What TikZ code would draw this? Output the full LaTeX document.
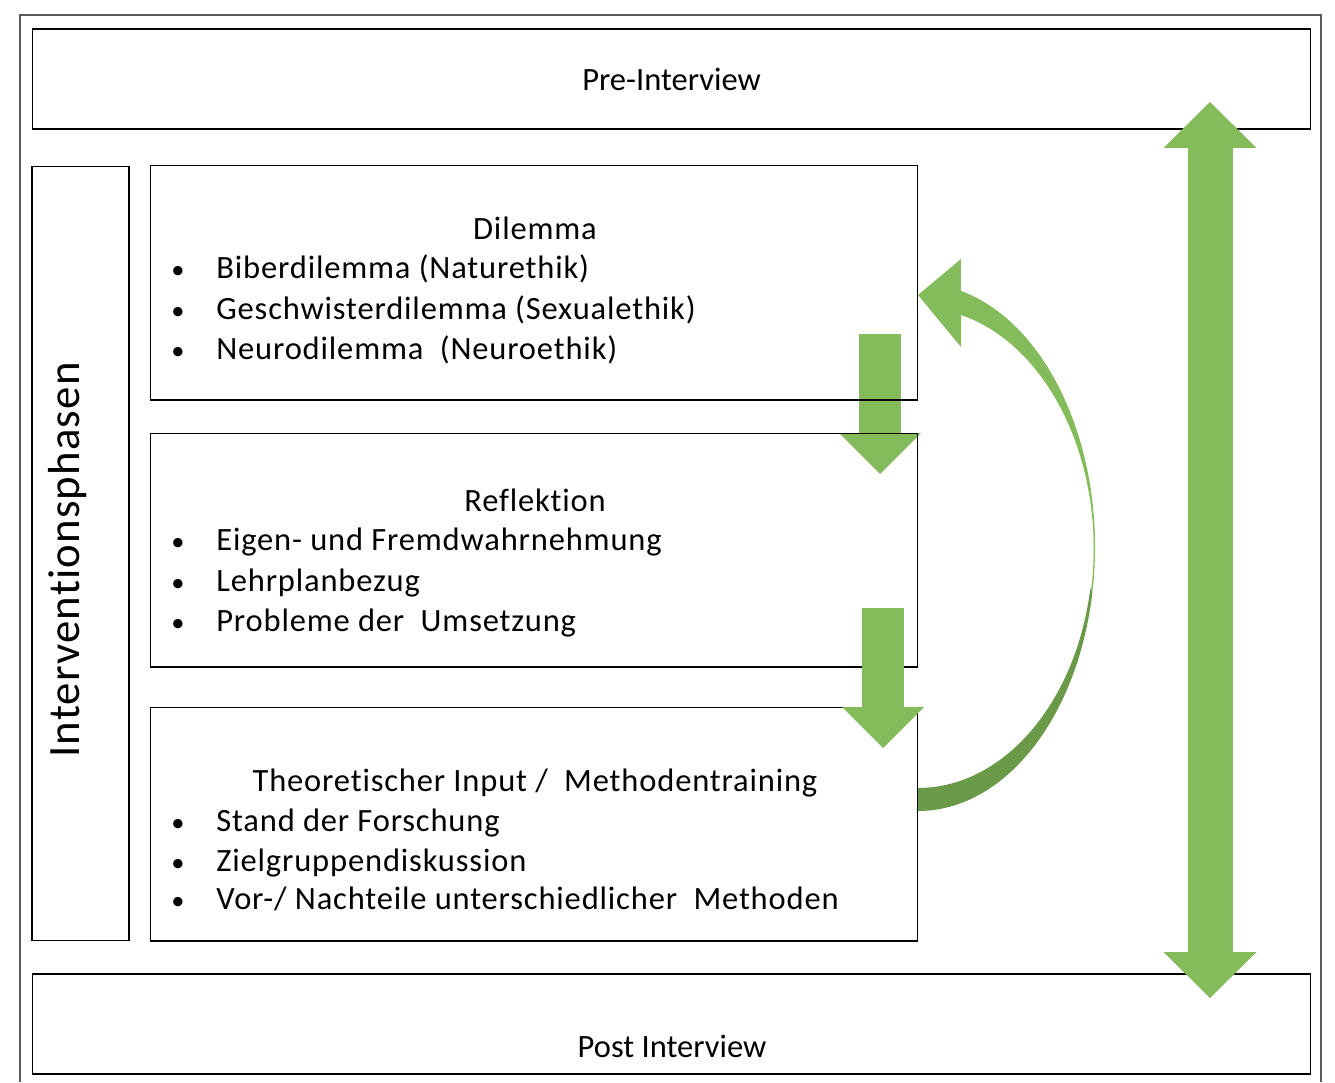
\documentclass[tikz,border=0pt]{standalone}
\usepackage{fontspec}
\setmainfont{Carlito}
\newfontfamily\gesperrt[LetterSpace=2.6, Ligatures=NoCommon]{Carlito}
\usetikzlibrary{arrows.meta,calc}
\definecolor{pfeilgruen}{RGB}{132,187,91}
\definecolor{pfeildunkel}{RGB}{106,154,72}
\definecolor{rahmengrau}{RGB}{90,90,90}
\tikzset{
  kasten/.style={draw=black, line width=0.6pt, inner sep=0pt},
  schrift/.style={inner sep=0pt, font=\fontsize{18.5}{22}\selectfont},
  titel/.style={inner sep=0pt, anchor=base, font=\gesperrt\fontsize{18.5}{22}\selectfont},
  punkt/.style={titel, anchor=base west},
  kugel/.style={inner sep=0pt, anchor=base, font=\fontsize{15}{17}\selectfont},
  fettpfeil/.style={draw=pfeilgruen, line width=0.84cm,
    -{Triangle[length=0.82cm,width=1.64cm,line width=0pt]}},
  doppelpfeil/.style={draw=pfeilgruen, line width=0.9cm,
    {Triangle[length=0.92cm,width=1.86cm,line width=0pt]}-{Triangle[length=0.92cm,width=1.86cm,line width=0pt]}}
}
\begin{document}
\begin{tikzpicture}[x=0.02cm, y=-0.02cm]
  \useasboundingbox (0,0) rectangle (1335,1082);
  % outer frame
  \draw[rahmengrau, line width=0.9pt] (20,1082) -- (20,15) -- (1321,15) -- (1321,1082);

  % curved arrow back to the dilemma
  \coordinate (bogen) at (918,547);
  \fill[pfeilgruen] (961,315) arc[start angle=-76, end angle=10, x radius=175, y radius=241]
    -- (1092.3,592.8) arc[start angle=10, end angle=-76, x radius=177, y radius=264]
    -- (961,259) -- (918,295) -- (961,347) -- cycle;
  \fill[pfeildunkel] (1090.3,588.8) arc[start angle=10, end angle=90, x radius=175, y radius=241]
    -- (918,811) arc[start angle=90, end angle=10, x radius=177, y radius=264] -- cycle;

  % first arrow down
  \coordinate (p1a) at (880,334);
  \coordinate (p1b) at (880,474);
  \draw[fettpfeil] (p1a) -- (p1b);

  % boxes
  \node[kasten, minimum width=25.58cm, minimum height=2cm, schrift] (pre) at (671.5,79) {Pre-Interview};
  \node[kasten, minimum width=1.94cm, minimum height=15.5cm] (phasen) at (80.5,553.5) {};
  \node[kasten, minimum width=15.36cm, minimum height=4.7cm] (dil) at (534,282.5) {};
  \node[kasten, minimum width=15.36cm, minimum height=4.68cm] (refl) at (534,550) {};
  \node[kasten, minimum width=15.36cm, minimum height=4.68cm] (theo) at (534,824) {};
  \node[kasten, minimum width=25.58cm, minimum height=2cm] (post) at (671.5,1024) {};

  \node[schrift, anchor=base] (posttext) at (672,1057) {Post Interview};
  \node[rotate=90, anchor=base, inner sep=0pt, font=\gesperrt\fontsize{25.5}{30}\selectfont] (phasentext) at (79,560) {Interventionsphasen};

  % texts of the phases
  \node[titel] (diltitel) at (535,239) {Dilemma};
  \node[titel] (refltitel) at (535,511) {Reflektion};
  \node[titel] (theotitel) at (535,791) {Theoretischer Input /\ \ Methodentraining};
  \foreach \y/\txt in {278/Biberdilemma (Naturethik), 319/Geschwisterdilemma (Sexualethik), 359/Neurodilemma\ \ (Neuroethik),
    550/Eigen- und Fremdwahrnehmung, 591/Lehrplanbezug, 631/Probleme der\ \ Umsetzung,
    831/Stand der Forschung, 871/Zielgruppendiskussion, 909/{Vor-/ Nachteile unterschiedlicher\ \ Methoden}} {
    \node[kugel] at (178,\y) {\textbullet};
    \node[punkt] at (216,\y) {\txt};
  }

  % second arrow down and the double arrow
  \coordinate (p2a) at (883,608);
  \coordinate (p2b) at (883,748);
  \draw[fettpfeil] (p2a) -- (p2b);
  \coordinate (d1) at (1210,102);
  \coordinate (d2) at (1210,998);
  \draw[doppelpfeil] (d1) -- (d2);
\end{tikzpicture}
\end{document}
